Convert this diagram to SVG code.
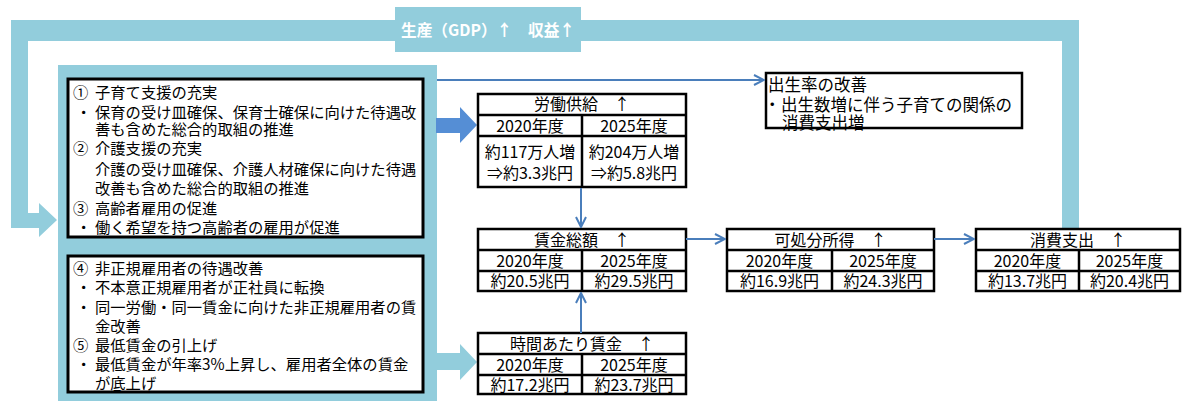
<svg xmlns="http://www.w3.org/2000/svg" width="1185" height="403" viewBox="0 0 1185 403">
<defs>
<style>
text{font-family:"Noto Sans CJK JP","Noto Sans CJK SC",sans-serif;fill:#000}
.lt{font-size:15.3px}
.tb{font-size:16px;text-anchor:middle}
.cell{fill:#fff;stroke:#000;stroke-width:2.5}
.grid{stroke:#000;stroke-width:2.5;fill:none}
.conn{stroke:#4A7EBB;stroke-width:2;fill:none;marker-end:url(#ah)}
.band{fill:#92CDDC}
</style>
<marker id="ah" viewBox="0 0 12 12" refX="11" refY="6" markerWidth="12" markerHeight="12" markerUnits="userSpaceOnUse" orient="auto">
<path d="M1,1 L11,6 L1,11" fill="none" stroke="#4A7EBB" stroke-width="2"/>
</marker>
</defs>
<rect width="1185" height="403" fill="#fff"/>

<g id="loop">
<path class="band" d="M11,20 L1079,20 L1079,229 L1062,229 L1062,41 L28,41 L28,213 L39,213 L39,203 L57,220 L39,237 L39,228 L11,228 Z"/>
<rect class="band" x="395" y="7" width="186" height="45"/>
<text x="488" y="36" text-anchor="middle" font-size="16" font-weight="bold" style="fill:#fff" textLength="174" lengthAdjust="spacingAndGlyphs">生産（GDP）↑　収益↑</text>
</g>

<g id="policies">
<rect class="band" x="58" y="65" width="379" height="336"/>
<g id="policy-box-1">
<rect x="68" y="79" width="355" height="158" fill="#fff" stroke="#000" stroke-width="3"/>
<text class="lt" x="73" y="98">①</text><text class="lt" x="95" y="98">子育て支援の充実</text>
<text class="lt" x="76" y="118">・</text><text class="lt" x="95" y="118">保育の受け皿確保、保育士確保に向けた待遇改</text>
<text class="lt" x="95" y="135">善も含めた総合的取組の推進</text>
<text class="lt" x="73" y="154">②</text><text class="lt" x="95" y="154">介護支援の充実</text>
<text class="lt" x="95" y="175">介護の受け皿確保、介護人材確保に向けた待遇</text>
<text class="lt" x="95" y="194">改善も含めた総合的取組の推進</text>
<text class="lt" x="73" y="214">③</text><text class="lt" x="95" y="214">高齢者雇用の促進</text>
<text class="lt" x="76" y="233">・</text><text class="lt" x="95" y="233">働く希望を持つ高齢者の雇用が促進</text>
</g>
<g id="policy-box-2">
<rect x="68" y="256" width="355" height="136" fill="#fff" stroke="#000" stroke-width="3"/>
<text class="lt" x="73" y="274">④</text><text class="lt" x="95" y="274">非正規雇用者の待遇改善</text>
<text class="lt" x="76" y="293">・</text><text class="lt" x="95" y="293">不本意正規雇用者が正社員に転換</text>
<text class="lt" x="76" y="313">・</text><text class="lt" x="95" y="313">同一労働・同一賃金に向けた非正規雇用者の賃</text>
<text class="lt" x="95" y="332">金改善</text>
<text class="lt" x="73" y="351">⑤</text><text class="lt" x="95" y="351">最低賃金の引上げ</text>
<text class="lt" x="76" y="370">・</text><text class="lt" x="95" y="370">最低賃金が年率3%上昇し、雇用者全体の賃金</text>
<text class="lt" x="95" y="389">が底上げ</text>
</g>
</g>

<g id="big-arrows">
<path d="M436,118 L460,118 L460,107 L477,125 L460,143 L460,133 L436,133 Z" fill="#558ED5"/>
<path d="M436,353 L460,353 L460,344 L477,362 L460,380 L460,370 L436,370 Z" fill="#92CDDC"/>
</g>

<g id="labor-supply">
<rect class="cell" x="478" y="94" width="208" height="93"/>
<path class="grid" d="M478,115 H686 M478,136 H686 M582,115 V187"/>
<text class="tb" x="582" y="110">労働供給　↑</text>
<text class="tb" x="530" y="132">2020年度</text><text class="tb" x="634" y="132">2025年度</text>
<text class="tb" x="530" y="158">約117万人増</text><text class="tb" x="634" y="158">約204万人増</text>
<text class="tb" x="530" y="179">⇒約3.3兆円</text><text class="tb" x="634" y="179">⇒約5.8兆円</text>
</g>

<g id="total-wages">
<rect class="cell" x="478" y="229" width="208" height="62"/>
<path class="grid" d="M478,250 H686 M478,271 H686 M582,250 V291"/>
<text class="tb" x="582" y="245.5">賃金総額　↑</text>
<text class="tb" x="530" y="266.5">2020年度</text><text class="tb" x="634" y="266.5">2025年度</text>
<text class="tb" x="530" y="287">約20.5兆円</text><text class="tb" x="634" y="287">約29.5兆円</text>
</g>

<g id="hourly-wage">
<rect class="cell" x="478" y="333" width="208" height="61"/>
<path class="grid" d="M478,354 H686 M478,375 H686 M582,354 V394"/>
<text class="tb" x="582" y="349.5">時間あたり賃金　↑</text>
<text class="tb" x="530" y="370.5">2020年度</text><text class="tb" x="634" y="370.5">2025年度</text>
<text class="tb" x="530" y="390.5">約17.2兆円</text><text class="tb" x="634" y="390.5">約23.7兆円</text>
</g>

<g id="disposable-income">
<rect class="cell" x="727" y="229" width="207" height="62"/>
<path class="grid" d="M727,250 H934 M727,271 H934 M832,250 V291"/>
<text class="tb" x="830.5" y="245.5">可処分所得　↑</text>
<text class="tb" x="779.5" y="266.5">2020年度</text><text class="tb" x="883" y="266.5">2025年度</text>
<text class="tb" x="779.5" y="287">約16.9兆円</text><text class="tb" x="883" y="287">約24.3兆円</text>
</g>

<g id="consumption">
<rect class="cell" x="976" y="229" width="204" height="62"/>
<path class="grid" d="M976,250 H1180 M976,271 H1180 M1079,250 V291"/>
<text class="tb" x="1078" y="245.5">消費支出　↑</text>
<text class="tb" x="1027.5" y="266.5">2020年度</text><text class="tb" x="1129.5" y="266.5">2025年度</text>
<text class="tb" x="1027.5" y="287">約13.7兆円</text><text class="tb" x="1129.5" y="287">約20.4兆円</text>
</g>

<g id="birth-rate">
<rect x="766" y="73" width="256" height="55" fill="#fff"/>
<text x="768" y="91" font-size="16.5">出生率の改善</text>
<text x="764" y="111" font-size="16.5">・</text>
<text x="781" y="111" font-size="16.5">出生数増に伴う子育ての関係の</text>
<text x="782" y="129" font-size="16.5">消費支出増</text>
<rect x="766" y="73" width="256" height="55" fill="none" stroke="#000" stroke-width="2.5"/>
</g>

<g id="connectors">
<path class="conn" d="M437,80 H764"/>
<path class="conn" d="M581,188 V227"/>
<path class="conn" d="M581,333 V293"/>
<path class="conn" d="M686,239 H725"/>
<path class="conn" d="M934,239 H974"/>
</g>
</svg>
